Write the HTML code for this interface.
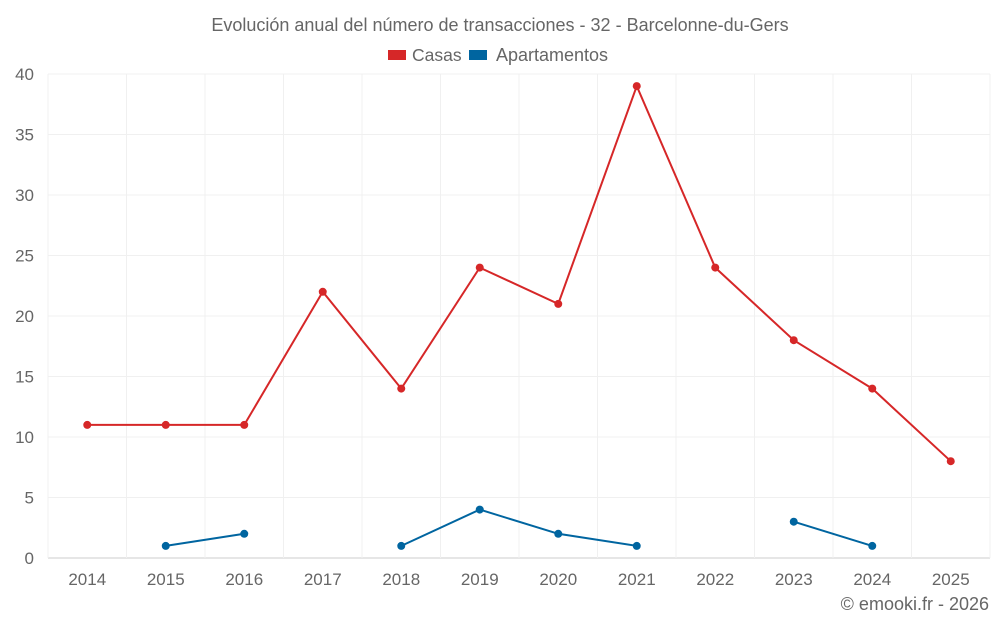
<!DOCTYPE html>
<html><head><meta charset="utf-8">
<style>
body{margin:0;background:#fff;width:1000px;height:625px;overflow:hidden;font-family:"Liberation Sans",sans-serif;}
svg text{font-family:"Liberation Sans",sans-serif;fill:#666;}
</style></head>
<body>
<svg id="chart" width="1000" height="625" xmlns="http://www.w3.org/2000/svg">
<text x="500" y="31" text-anchor="middle" font-size="18">Evolución anual del número de transacciones - 32 - Barcelonne-du-Gers</text>
<g><rect x="388" y="50" width="18" height="10" fill="#d62728"/><text x="412" y="61" font-size="17.5">Casas</text></g>
<g><rect x="469" y="50" width="18" height="10" fill="#0065a0"/><text x="496" y="61" font-size="18">Apartamentos</text></g>
<g id="grid"></g><g id="axes"></g><g id="series"></g>
<text x="989" y="610" text-anchor="end" font-size="18" fill="#555">© emooki.fr - 2026</text>
</svg>
<script>
const categories=["2014","2015","2016","2017","2018","2019","2020","2021","2022","2023","2024","2025"];
const casas=[11,11,11,22,14,24,21,39,24,18,14,8];
const apartamentos=[null,1,2,null,1,4,2,1,null,3,1,null];
const yTicks=[0,5,10,15,20,25,30,35,40];
const NS="http://www.w3.org/2000/svg";
const L=48,R=990,T=74,B=558,yMax=40;
const step=(R-L)/categories.length;
const x=i=>L+step*(i+0.5);
const y=v=>B-(v/yMax)*(B-T);
function mk(tag,attrs,parent){const e=document.createElementNS(NS,tag);for(const k in attrs)e.setAttribute(k,attrs[k]);parent.appendChild(e);return e;}
const grid=document.getElementById('grid'),axes=document.getElementById('axes'),ser=document.getElementById('series');
yTicks.forEach(t=>{
 const g=mk('line',{x1:L,x2:R,y1:y(t),y2:y(t),stroke:t===0?'#ccc':'#f0f0f0','stroke-width':1},grid);
 
 
 const tx=mk('text',{x:L-14,y:y(t)+6,'text-anchor':'end','font-size':17},axes);
 tx.textContent=t;
 
 
});
for(let i=0;i<=categories.length;i++){
 const g=mk('line',{x1:L+step*i,x2:L+step*i,y1:T,y2:B,stroke:'#f0f0f0','stroke-width':1},grid);
 
 
}
categories.forEach((c,i)=>{
 const tx=mk('text',{x:x(i),y:B+27,'text-anchor':'middle','font-size':17},axes);
 tx.textContent=c;
 
 
});
function drawSeries(vals,color,name){
 let seg=[];const segs=[];
 vals.forEach((v,i)=>{if(v===null){if(seg.length)segs.push(seg);seg=[];}else seg.push([x(i),y(v)]);});
 if(seg.length)segs.push(seg);
 segs.forEach(s=>{if(s.length>1){
  const p=mk('polyline',{points:s.map(q=>q.join(',')).join(' '),fill:'none',stroke:color,'stroke-width':2},ser);
  
  
 }});
 vals.forEach((v,i)=>{if(v===null)return;
  const c=mk('circle',{cx:x(i),cy:y(v),r:4,fill:color},ser);
  
  
 });
}
drawSeries(casas,'#d62728','casas');
drawSeries(apartamentos,'#0065a0','apartamentos');
</script>
</body></html>
